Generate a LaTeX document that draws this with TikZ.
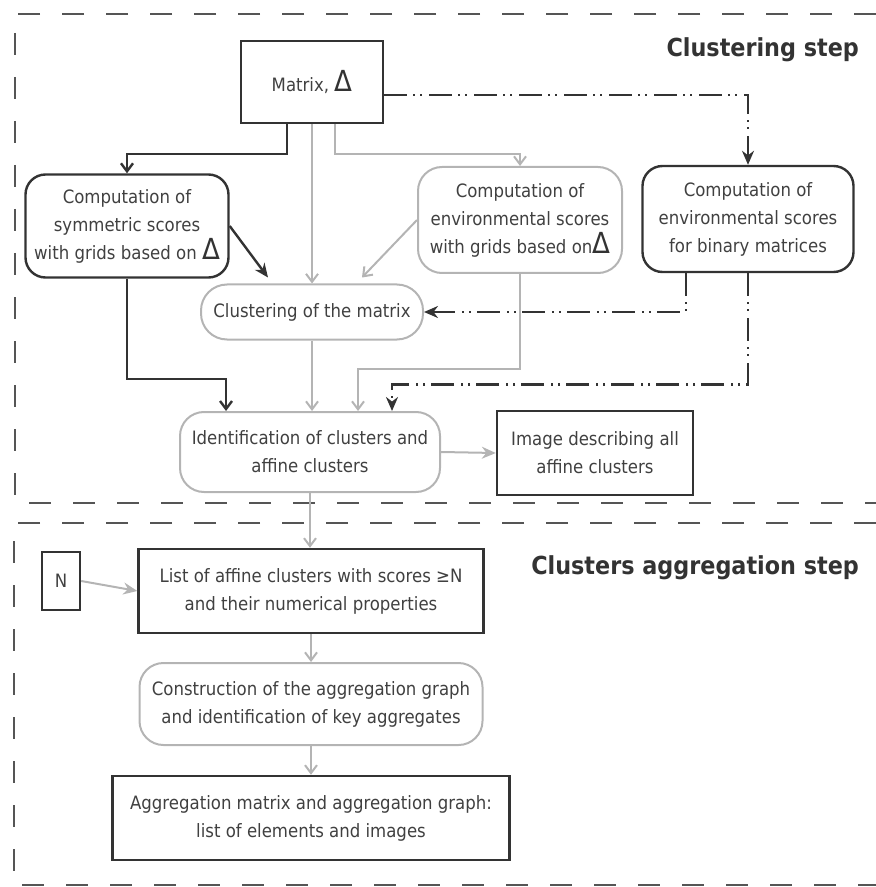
\documentclass[tikz,border=0pt]{standalone}
\usepackage{fontspec}
\setmainfont{DejaVu Sans}[FakeStretch=0.9]
\usetikzlibrary{arrows.meta, positioning}
\definecolor{inkdark}{HTML}{333333}
\definecolor{inkgrey}{HTML}{B4B4B4}
\definecolor{txtgrey}{HTML}{404040}
\definecolor{framegrey}{HTML}{555555}
\newcommand{\tri}{{\color{inkdark}\fontsize{14.5}{12}\selectfont Δ}}

\begin{document}
\begin{tikzpicture}[
    x=0.5pt, y=-0.5pt,
    every node/.style={font=\fontsize{9.2}{14}\selectfont, text=txtgrey, align=center},
    darkbox/.style={draw=inkdark, line width=1.2pt, inner sep=0pt},
    darkround/.style={darkbox, rounded corners=10pt},
    greyround/.style={draw=inkgrey, line width=1pt, rounded corners=12pt, inner sep=0pt},
    darkflow/.style={draw=inkdark, line width=1.2pt, -{Straight Barb[length=4pt,width=6pt]}},
    greyflow/.style={draw=inkgrey, line width=1pt, -{Straight Barb[length=4pt,width=6pt]}},
    greysolid/.style={draw=inkgrey, line width=1pt, -{Stealth[length=7pt,width=6pt]}},
    dotflow/.style={draw=inkdark, line width=1.4pt,
        dash pattern=on 11.5pt off 3pt on 1pt off 2.5pt on 1pt off 3.5pt,
        -{Stealth[length=7pt,width=6pt]}},
    frame/.style={draw=framegrey, line width=1.4pt, dash pattern=on 11pt off 11pt},
    steptitle/.style={font=\bfseries\fontsize{12.4}{14}\selectfont, text=inkdark, anchor=east}
]
\useasboundingbox (0,0) rectangle (876,887);

% frames of the two steps
\draw[frame] (876,14) -- (15,14) -- (15,503) -- (876,503);
\draw[frame] (876,523) -- (14,523) -- (14,885) -- (876,885);

\node[steptitle] (title1) at (866,50) {Clustering step};
\node[steptitle] (title2) at (866,568) {Clusters aggregation step};

% clustering step
\node[darkbox, minimum width=71pt, minimum height=41pt] (mtx) at (312,82) {Matrix, \tri};
\node[darkround, minimum width=101.5pt, minimum height=51.5pt] (sym) at (127,226)
    {Computation of\\symmetric scores\\with grids based on \tri};
\node[greyround, minimum width=102pt, minimum height=53pt] (env) at (520,220)
    {Computation of\\environmental scores\\with grids based on\tri};
\node[darkround, minimum width=105.5pt, minimum height=53pt] (bin) at (748,219)
    {Computation of\\environmental scores\\for binary matrices};
\node[greyround, rounded corners=13pt, minimum width=111pt, minimum height=27.5pt] (clus) at (312,312)
    {Clustering of the matrix};
\node[greyround, minimum width=130pt, minimum height=40pt] (ident) at (310,452)
    {Identification of clusters and\\affine clusters};
\node[darkbox, minimum width=98pt, minimum height=42pt] (img) at (595,453)
    {Image describing all\\affine clusters};

% aggregation step
\node[darkbox, minimum width=19pt, minimum height=29pt] (nval) at (61,581) {N};
\node[darkbox, minimum width=172.5pt, minimum height=42pt] (list) at (311,591)
    {List of affine clusters with scores ≥N\\and their numerical properties};
\node[greyround, minimum width=171.5pt, minimum height=41pt] (constr) at (311,704)
    {Construction of the aggregation graph\\and identification of key aggregates};
\node[darkbox, minimum width=198.5pt, minimum height=42pt] (aggr) at (311,818)
    {Aggregation matrix and aggregation graph:\\list of elements and images};

% connectors
\draw[darkflow] ([xshift=-12.5pt]mtx.south) -- ++(0,30) -| (sym.north);
\draw[greyflow] (mtx.south) -- (clus.north);
\draw[greyflow] ([xshift=11.5pt]mtx.south) -- ++(0,30) -| (env.north);
\draw[dotflow] ([yshift=-6.5pt]mtx.east) -| (bin.north);

\draw[inkdark, line width=1.2pt, -{Stealth[length=7pt,width=6pt]}] (sym.east) -- ([xshift=-22pt,yshift=3pt]clus.north);
\draw[greyflow] (env.west) -- ([xshift=25pt,yshift=3pt]clus.north);
\draw[dotflow] ([xshift=-31pt]bin.south) |- (clus.east);

\draw[darkflow] (sym.south) -- ++(0,100) -| ([xshift=-42pt]ident.north);
\draw[greyflow] (clus.south) -- (clus.south |- ident.north);
\draw[greyflow] (env.south) -- ++(0,95) -| ([xshift=24pt]ident.north);
\draw[dotflow] (bin.south) -- ++(0,111) -| ([xshift=41pt]ident.north);

\draw[greysolid] (ident.east) -- (img.west);
\draw[greyflow] (ident.south) -- (ident.south |- list.north);
\draw[greysolid] (nval.east) -- (list.west);
\draw[greyflow] (list.south) -- (list.south |- constr.north);
\draw[greyflow] (constr.south) -- (constr.south |- aggr.north);

\end{tikzpicture}
\end{document}
